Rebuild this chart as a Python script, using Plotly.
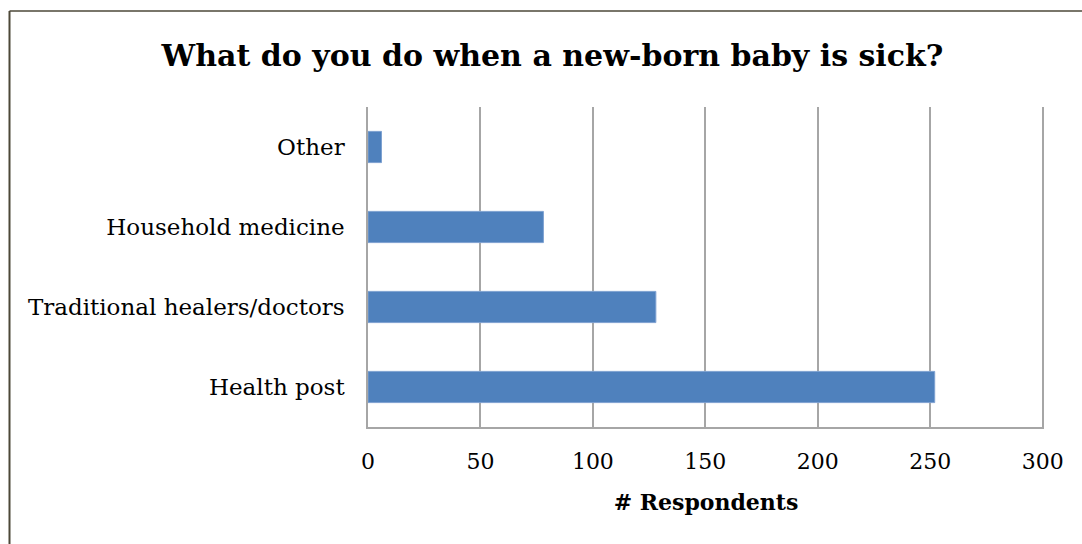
import plotly.graph_objects as go

# Survey responses: what caregivers do when a new-born is sick
categories = ["Health post", "Traditional healers/doctors", "Household medicine", "Other"]
respondents = [252, 128, 78, 6]
x_ticks = [0, 50, 100, 150, 200, 250, 300]

W, H = 1082, 544
L, R, T, B = 368, 38, 107, 117
plot_w = W - L - R
plot_h = H - T - B

def px_to_paper_x(px):
    return (px - L) / plot_w

def px_to_paper_y(py):
    return (H - B - py) / plot_h

fig = go.Figure(
    go.Bar(
        x=respondents,
        y=categories,
        orientation="h",
        marker=dict(color="#4f81bd", line=dict(color="#7ea1d1", width=1)),
        width=0.39,
    )
)

serif = "DejaVu Serif"
grid_col = "#a6a6a6"
fig.update_layout(
    width=W,
    height=H,
    margin=dict(l=L, r=R, t=T, b=B),
    paper_bgcolor="white",
    plot_bgcolor="white",
    showlegend=False,
    title=dict(
        text="<b>What do you do when a new-born baby is sick?</b>",
        x=(157 + 948) / 2 / W,
        xanchor="center",
        y=1 - 55 / H,
        yanchor="middle",
        yref="container",
        font=dict(family=serif, size=30, color="black"),
    ),
    xaxis=dict(
        range=[0, 300.6],
        tickvals=x_ticks,
        showgrid=True,
        gridcolor=grid_col,
        gridwidth=1.5,
        zeroline=False,
        showline=True,
        linecolor=grid_col,
        linewidth=1.5,
        ticks="",
        ticklabelstandoff=14,
        tickfont=dict(family=serif, size=22, color="black"),
        title=dict(
            text="<b># Respondents</b>",
            font=dict(family=serif, size=22, color="black"),
            standoff=21,
        ),
    ),
    yaxis=dict(
        showgrid=False,
        showline=True,
        linecolor=grid_col,
        linewidth=1.5,
        ticks="",
        ticklabelstandoff=17,
        tickfont=dict(family=serif, size=23, color="black"),
        categoryorder="array",
        categoryarray=categories,
    ),
    bargap=0.61,
)

# Outer frame edges (top and left) of the chart area
frame_col = "#4d4838"
fig.add_shape(
    type="line", xref="paper", yref="paper",
    x0=px_to_paper_x(9.5), x1=px_to_paper_x(W + 5),
    y0=px_to_paper_y(11), y1=px_to_paper_y(11),
    line=dict(color=frame_col, width=1.5), layer="above",
)
fig.add_shape(
    type="line", xref="paper", yref="paper",
    x0=px_to_paper_x(9.5), x1=px_to_paper_x(9.5),
    y0=px_to_paper_y(11), y1=px_to_paper_y(H + 5),
    line=dict(color=frame_col, width=2), layer="above",
)

fig.write_html("out.html")
